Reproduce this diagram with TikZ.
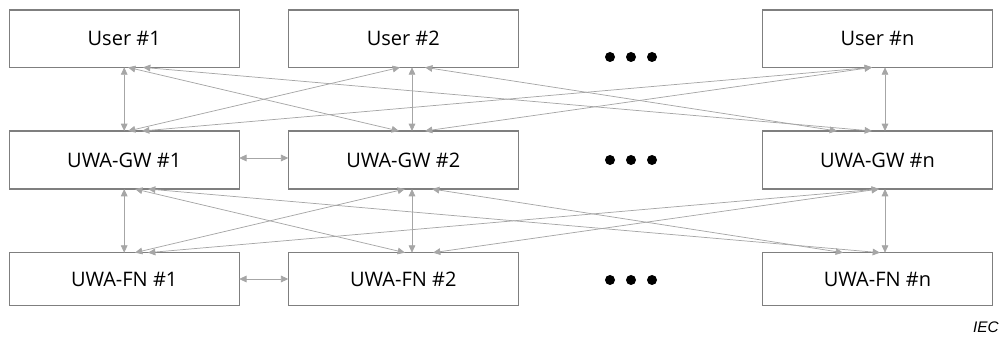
\documentclass[tikz,border=0pt]{standalone}
\usepackage{fontspec}
\setmainfont{Open Sans}
\newfontfamily\iecfont{Liberation Sans}
\usetikzlibrary{arrows.meta,calc}
\definecolor{boxgray}{HTML}{7F7F7F}
\definecolor{linkgray}{HTML}{A6A6A6}
\tikzset{
  entity/.style={draw=boxgray, line width=1.0pt, rectangle, inner sep=0pt, outer sep=0pt,
    minimum width=172.5pt, font=\fontsize{15}{18}\selectfont},
  link/.style={draw=linkgray, line width=0.55pt, {Triangle[length=5.5pt,width=5pt]}-{Triangle[length=5.5pt,width=5pt]}},
  dotmark/.style={circle, fill=black, inner sep=0pt, minimum size=7.5pt},
}
\begin{document}
\begin{tikzpicture}[x=0.75pt,y=-0.75pt]
\useasboundingbox (0,0) rectangle (1003,338);
% row 1
\node[entity, minimum height=43pt] (u1) at (124.2,38.7) {User \#1};
\node[entity, minimum height=43pt] (u2) at (403.3,38.7) {User \#2};
\node[entity, minimum height=43pt] (un) at (877.5,38.7) {User \#n};
% row 2
\node[entity, minimum height=43.5pt] (g1) at (124.2,160) {UWA-GW \#1};
\node[entity, minimum height=43.5pt] (g2) at (403.3,160) {UWA-GW \#2};
\node[entity, minimum height=43.5pt] (gn) at (877.5,160) {UWA-GW \#n};
% row 3
\node[entity, minimum height=39.5pt] (f1) at (124.2,279) {UWA-FN \#1};
\node[entity, minimum height=39.5pt] (f2) at (403.3,279) {UWA-FN \#2};
\node[entity, minimum height=39.5pt] (fn) at (877.5,279) {UWA-FN \#n};
% ellipsis dots
\foreach \r/\y in {1/57,2/160,3/280}{
  \node[dotmark] (da\r) at (610,\y) {};
  \node[dotmark] (db\r) at (631,\y) {};
  \node[dotmark] (dc\r) at (652,\y) {};
}
% gap 1 : users <-> gateways
\draw[link] (u1.south) -- (g1.north);
\draw[link] ($(u1.south)+(3.8,0)$) -- ($(g2.north)+(-4.3,0)$);
\draw[link] ($(u1.south)+(18.8,0)$) -- ($(gn.north)+(-5.5,0)$);
\draw[link] ($(u2.south)+(-3.3,0)$) -- ($(g1.north)+(3.8,0)$);
\draw[link] ($(u2.south)+(8.7,0)$) -- ($(g2.north)+(8.7,0)$);
\draw[link] ($(u2.south)+(21.7,0)$) -- ($(gn.north)+(-40.5,0)$);
\draw[link] ($(un.south)+(-5.5,0)$) -- ($(g1.north)+(17.8,0)$);
\draw[link] ($(un.south)+(-5.5,0)$) -- ($(g2.north)+(21.7,0)$);
\draw[link] ($(un.south)+(7.5,0)$) -- ($(gn.north)+(7.5,0)$);
% gap 2 : gateways <-> field nodes
\draw[link] (g1.south) -- (f1.north);
\draw[link] ($(g1.south)+(10.8,0)$) -- ($(f2.north)+(1.7,0)$);
\draw[link] ($(g1.south)+(23.8,0)$) -- ($(fn.north)+(2.5,0)$);
\draw[link] ($(g2.south)+(1.7,0)$) -- ($(f1.north)+(10.8,0)$);
\draw[link] ($(g2.south)+(8.7,0)$) -- ($(f2.north)+(8.7,0)$);
\draw[link] ($(g2.south)+(28.7,0)$) -- ($(fn.north)+(-34.5,0)$);
\draw[link] ($(gn.south)+(1.5,0)$) -- ($(f1.north)+(23.8,0)$);
\draw[link] ($(gn.south)+(1.5,0)$) -- ($(f2.north)+(29.7,0)$);
\draw[link] ($(gn.south)+(7.5,0)$) -- ($(fn.north)+(7.5,0)$);
% horizontal links
\draw[link] ($(g1.east)+(0,-2)$) -- ($(g2.west)+(0,-2)$);
\draw[link] (f1.east) -- (f2.west);
% IEC mark
\node[anchor=base east, inner sep=0pt, font=\iecfont\itshape\fontsize{11.5}{13}\selectfont] (iec) at (999,332) {IEC};
\end{tikzpicture}
\end{document}
